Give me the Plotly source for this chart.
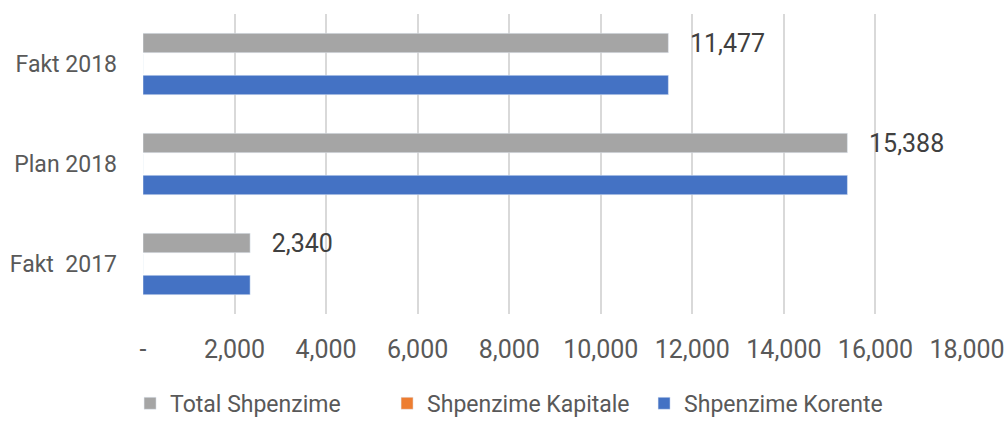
import plotly.graph_objects as go

categories = ["Fakt  2017", "Plan 2018", "Fakt 2018"]
total = [2340, 15388, 11477]
kapitale = [0, 0, 0]
korente = [2340, 15388, 11477]
tick_vals = [0, 2000, 4000, 6000, 8000, 10000, 12000, 14000, 16000, 18000]
tick_text = ["-", "2,000", "4,000", "6,000", "8,000", "10,000", "12,000", "14,000", "16,000", "18,000"]

FONT = "Roboto, Noto Sans, sans-serif"

fig = go.Figure()
fig.add_trace(go.Bar(y=categories, x=korente, orientation="h", name="Shpenzime Korente",
                     marker_color="#4472C4"))
fig.add_trace(go.Bar(y=categories, x=kapitale, orientation="h", name="Shpenzime Kapitale",
                     marker_color="#ED7D31"))
fig.add_trace(go.Bar(y=categories, x=total, orientation="h", name="Total Shpenzime",
                     marker_color="#A5A5A5",
                     text=["   " + f"{v:,}" for v in total], textposition="outside",
                     constraintext="none",
                     textfont=dict(size=25, color="#404040", family=FONT),
                     cliponaxis=False))

fig.update_layout(
    width=1005, height=421,
    margin=dict(l=143, r=38, t=14, b=107),
    paper_bgcolor="white", plot_bgcolor="white",
    barmode="group", bargap=0.37, bargroupgap=0.08,
    font=dict(family=FONT, color="#595959", size=25),
    showlegend=True,
    legend=dict(orientation="h", traceorder="reversed",
                xref="container", x=0.513, xanchor="center",
                yref="container", y=0.042, yanchor="middle",
                entrywidth=212, entrywidthmode="pixels",
                font=dict(size=23, color="#595959")),
    xaxis=dict(range=[0, 18000], tickvals=tick_vals, ticktext=tick_text,
               showgrid=True, gridcolor="#d9d9d9", gridwidth=1.5, zeroline=False,
               showline=False, ticks="", automargin=False, ticklabelstandoff=18,
               tickfont=dict(size=25, color="#595959")),
    yaxis=dict(showgrid=False, showline=False, ticks="", automargin=False,
               ticklabelstandoff=25, tickfont=dict(size=23, color="#595959")),
)

fig.write_html("out.html", config={"displayModeBar": False},
               post_script="document.body.style.margin='0';document.body.style.overflow='hidden';")
